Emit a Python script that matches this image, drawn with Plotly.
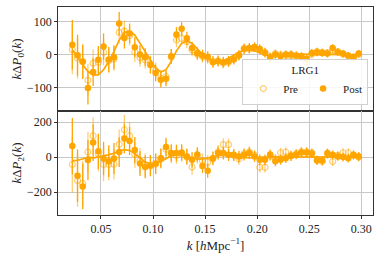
import plotly.graph_objects as go
from plotly.subplots import make_subplots

k = [round(0.0225 + 0.005 * i, 4) for i in range(56)]

post_p0 = [31, -1, -21, -100, -52, -15, 25, -14, -7, 95, 51, 65, 23, 1, -7, -31, -55, -75, -72, -4,
           62, 79, 50, 21, 5, -2, -6, -22, -19, -22, -19, -14, -2, 18, 21, 24, 18, 6, -9, 1,
           -4, 1, 1, -2, -4, -12, 6, 8, 6, 4, 21, 8, 4, -2, -9, 4]
pre_p0 = [16, -10, -20, -77, -25, -22, 8, -18, -12, 68, 72, 58, 8, -8, -15, -28, -48, -70, -66, -6,
          45, 50, 40, 15, 2, -5, -10, -20, -18, -25, -22, -12, 0, 20, 18, 22, 16, 8, -6, 4,
          0, -2, -3, -5, -8, -22, 2, 10, 8, 6, 15, 10, 2, -4, -6, 2]
err_p0 = [75, 62, 52, 50, 42, 42, 40, 38, 36, 35, 32, 30, 30, 28, 27, 26, 25, 24, 23, 22,
          22, 20, 20, 19, 18, 18, 17, 17, 16, 16, 16, 15, 15, 15, 15, 14, 14, 14, 14, 13,
          13, 13, 13, 13, 12, 12, 12, 12, 12, 12, 11, 11, 11, 11, 11, 11]
model_p0 = [15, -5, -30, -50, -62, -60, -45, -20, 10, 45, 68, 72, 60, 35, 8, -18, -40, -52, -45, -20,
            12, 35, 42, 35, 18, 2, -10, -16, -18, -17, -10, 0, 8, 14, 15, 12, 6, 0, -3, -4,
            -3, 0, 2, 3, 3, 2, 0, 0, 1, 2, 3, 2, 1, 0, 0, 1]

post_p2 = [63, -106, -167, -17, 83, 33, -8, -23, -8, 29, 106, 92, 40, -37, -56, -48, -37, -6, 58, 23,
           23, 27, 4, -15, 15, -50, -77, -6, 23, 23, 13, 13, 4, 13, 23, 4, -15, -15, 15, -23,
           -15, -6, 6, 15, 27, 27, 20, -19, -19, 23, 13, 4, 0, -6, 13, 4]
pre_p2 = [-42, -133, -150, 29, 121, 20, -42, -42, -40, 73, 156, 121, 15, -20, -45, -50, -40, -10, 45, 15,
          10, 20, 0, -56, 5, -20, -30, -10, 30, 71, 71, 10, -10, 20, 30, 10, -58, -58, 5, -10,
          25, 28, 10, 20, 30, 30, 25, -15, -25, 15, -25, 10, 25, 25, 10, 0]
err_p2 = [160, 150, 130, 115, 105, 100, 95, 90, 88, 85, 85, 80, 75, 70, 65, 60, 58, 55, 52, 50,
          48, 46, 45, 44, 42, 40, 40, 38, 37, 36, 35, 34, 33, 32, 32, 31, 30, 30, 29, 29,
          28, 28, 28, 27, 27, 27, 26, 26, 26, 26, 25, 25, 25, 25, 25, 25]
model_p2 = [-20, -18, -10, 0, -5, 0, 8, 14, 22, 35, 42, 38, 20, -5, -28, -38, -36, -25, -8, 8,
            16, 14, 5, -5, -10, -10, -5, 2, 8, 10, 8, 3, -2, -4, -4, -2, 0, 2, 3, 2,
            0, -1, -1, 0, 1, 2, 2, 1, 0, 0, 0, 1, 1, 0, 0, 0]

ORANGE = "#FFA500"
ORANGE_LIGHT = "rgba(255,165,0,0.55)"
FONT = "Liberation Serif, DejaVu Serif, serif"
TXT = "#222222"

fig = make_subplots(rows=2, cols=1, shared_xaxes=True, vertical_spacing=0)

for row, pre, post, err, model in [(1, pre_p0, post_p0, err_p0, model_p0),
                                   (2, pre_p2, post_p2, err_p2, model_p2)]:
    fig.add_trace(go.Scatter(x=k, y=model, mode="lines", line=dict(color=ORANGE_LIGHT, width=1.5),
                             showlegend=False, hoverinfo="skip"), row=row, col=1)
    fig.add_trace(go.Scatter(x=k, y=pre, mode="markers", name="Pre",
                             marker=dict(symbol="circle-open", color=ORANGE_LIGHT, size=6,
                                         line=dict(width=1.2, color=ORANGE_LIGHT)),
                             error_y=dict(type="data", array=err, color=ORANGE_LIGHT, thickness=1.3, width=0),
                             showlegend=(row == 1)), row=row, col=1)
    fig.add_trace(go.Scatter(x=k, y=model, mode="lines", line=dict(color=ORANGE, width=1.5),
                             showlegend=False, hoverinfo="skip"), row=row, col=1)
    fig.add_trace(go.Scatter(x=k, y=post, mode="markers", name="Post",
                             marker=dict(symbol="circle", color=ORANGE, size=6.5),
                             error_y=dict(type="data", array=err, color=ORANGE, thickness=1.3, width=0),
                             showlegend=(row == 1)), row=row, col=1)

axis_common = dict(showline=True, linecolor="#333333", linewidth=0.8, mirror=True,
                   showgrid=True, gridcolor="#c8c8c8", gridwidth=1, zeroline=False,
                   ticks="outside", ticklen=3, tickcolor="#333333", automargin=False,
                   tickfont=dict(family=FONT, size=12, color=TXT))

fig.update_xaxes(**axis_common, range=[0.00875, 0.31125],
                 tickvals=[0.05, 0.10, 0.15, 0.20, 0.25, 0.30])
fig.update_xaxes(ticktext=["0.05", "0.10", "0.15", "0.20", "0.25", "0.30"],
                 tickvals=[0.05, 0.10, 0.15, 0.20, 0.25, 0.30], row=2, col=1)
fig.update_xaxes(title=dict(text="<i>k</i> [<i>h</i>Mpc<sup>−1</sup>]",
                            font=dict(family=FONT, size=13, color=TXT), standoff=0), row=2, col=1)
fig.update_yaxes(**axis_common)
fig.update_yaxes(range=[-170, 145], tickvals=[-100, 0, 100],
                 title=dict(text="<i>k</i>Δ<i>P</i><sub>0</sub>(<i>k</i>)",
                            font=dict(family=FONT, size=13, color=TXT), standoff=2), row=1, col=1)
fig.update_yaxes(range=[-330, 263], tickvals=[-200, 0, 200],
                 title=dict(text="<i>k</i>Δ<i>P</i><sub>2</sub>(<i>k</i>)",
                            font=dict(family=FONT, size=13, color=TXT), standoff=2), row=2, col=1)

fig.update_layout(
    width=380, height=259,
    margin=dict(l=58, r=7, t=7, b=44),
    paper_bgcolor="white", plot_bgcolor="white",
    font=dict(family=FONT, size=12, color=TXT),
    legend=dict(title=dict(text="LRG1", side="top center", font=dict(family=FONT, size=11, color=TXT)),
                orientation="h", x=0.985, xanchor="right", y=0.53, yanchor="bottom",
                bgcolor="rgba(255,255,255,0.85)", bordercolor="#d0d0d0", borderwidth=1,
                font=dict(family=FONT, size=11, color=TXT), itemwidth=30,
                entrywidth=0, tracegroupgap=0),
)

fig.write_html("out.html", config={"displayModeBar": False},
               post_script="document.body.style.margin='0';document.body.style.overflow='hidden';")
